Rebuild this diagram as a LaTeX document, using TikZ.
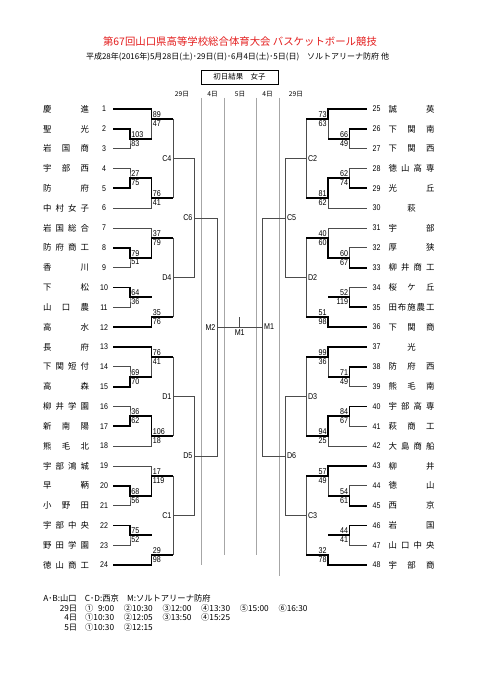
\documentclass[tikz,border=0pt]{standalone}
\usepackage{fontspec}
\setmainfont{Noto Sans CJK JP}
\newfontfamily\scorefont[FakeStretch=0.85]{Liberation Sans}
\usetikzlibrary{positioning}

\definecolor{titlered}{RGB}{228,28,28}

\tikzset{
  line/.style={line width=0.6pt, black!70},
  win/.style={line width=1.4pt, black},
  dayline/.style={line width=0.5pt, black!35},
  team/.style={inner sep=0pt, font=\fontsize{6.3}{7}\selectfont},
  num/.style={inner sep=0pt, font=\scorefont\fontsize{6.2}{7}\selectfont},
  score/.style={inner sep=0.9pt, font=\scorefont\fontsize{6.3}{7}\selectfont},
  sup/.style={score, anchor=south west},
  sdown/.style={score, anchor=north west},
  lbl/.style={inner sep=1.2pt, anchor=east, font=\scorefont\fontsize{6.3}{7}\selectfont},
  foot/.style={inner sep=0pt, font=\fontsize{6.2}{6.75}\selectfont},
}

\newcommand\teamname[1]{\makebox[34.5pt][s]{#1}}

% half of the draw: #1 tag, #2 team offset, #3 blocks, #4 #5 #6 later rounds
\newcommand\bracketside[6]{%
  \foreach \blk/\wina/\winb/\winc/\wind/\pa/\pb/\pc/\pd/\pe/\pf/\pg/\ph/\lab in {#3} {
    \pgfmathtruncatemacro\ka{#2+6*\blk+1}
    \pgfmathtruncatemacro\kb{\ka+1}
    \pgfmathtruncatemacro\kc{\ka+2}
    \pgfmathtruncatemacro\kd{\ka+3}
    \pgfmathtruncatemacro\ke{\ka+4}
    \pgfmathtruncatemacro\kf{\ka+5}
    \pgfmathsetmacro\yA{109+6*\blk*19.83}
    \pgfmathsetmacro\oA{\yA+0.5*19.83}
    \pgfmathsetmacro\oB{\yA+1.5*19.83}
    \pgfmathsetmacro\oC{\yA+2.5*19.83}
    \pgfmathsetmacro\oD{\yA+3.5*19.83}
    \pgfmathsetmacro\oE{\yA+4.5*19.83}
    \coordinate (#1\blk a) at (130,\oB);
    \coordinate (#1\blk b) at (151.5,\oA);
    \coordinate (#1\blk c) at (130,\oD);
    \coordinate (#1\blk d) at (151.5,\oE);
    \coordinate (#1\blk e) at (173.3,\oC);
    % all lines thin first
    \draw[line] (e\ka) -| (151.5,\oB);
    \draw[line] (e\kb) -| (#1\blk a) |- (e\kc);
    \draw[line] (e\kd) -| (#1\blk c) |- (e\ke);
    \draw[line] (#1\blk d) |- (e\kf);
    \draw[line] (173.3,\oA) -- (173.3,\oE);
    % winners thick
    \ifnum\wina=0 \edef\from{e\kb}\else\edef\from{e\kc}\fi
    \draw[win] (\from) -| (#1\blk a) -- (151.5,\oB);
    \ifnum\winb=0 \edef\from{e\ka}\else\edef\from{#1\blk a}\fi
    \draw[win] (\from) -| (#1\blk b) -- (173.3,\oA);
    \ifnum\winc=0 \edef\from{e\kd}\else\edef\from{e\ke}\fi
    \draw[win] (\from) -| (#1\blk c) -- (151.5,\oD);
    \ifnum\wind=0 \edef\from{#1\blk c}\else\edef\from{e\kf}\fi
    \draw[win] (\from) -| (#1\blk d) -- (173.3,\oE);
    % scores
    \node[sup] (#1\blk a1) at (#1\blk a) {\pa};
    \node[sdown] (#1\blk a2) at (#1\blk a) {\pb};
    \node[sup] (#1\blk b1) at (#1\blk b) {\pc};
    \node[sdown] (#1\blk b2) at (#1\blk b) {\pd};
    \node[sup] (#1\blk c1) at (#1\blk c) {\pe};
    \node[sdown] (#1\blk c2) at (#1\blk c) {\pf};
    \node[sup] (#1\blk d1) at (#1\blk d) {\pg};
    \node[sdown] (#1\blk d2) at (#1\blk d) {\ph};
    \node[lbl] (#1\blk) at (#1\blk e) {\lab};
  }
  \coordinate (#1f) at (194.3,218.1);
  \coordinate (#1g) at (194.3,456.0);
  \coordinate (#1m) at (217.3,327.1);
  \draw[line] (#10e) -| (#1f) |- (#11e);
  \draw[line] (#12e) -| (#1g) |- (#13e);
  \draw[line] (#1f) -| (#1m) |- (#1g);
  \node[lbl] (#1f lab) at (#1f) {#4};
  \node[lbl] (#1g lab) at (#1g) {#5};
  \node[lbl] (#1m lab) at (#1m) {#6};
}

\begin{document}
\begin{tikzpicture}[x=0.75pt, y=-0.75pt]
  \fill[white] (0,0) rectangle (481,680);
  \useasboundingbox (0,0) rectangle (481,680);

  % heading
  \node[text=titlered, inner sep=0pt, font=\fontsize{7.8}{9}\selectfont] (title) at (240,42)
    {第67回山口県高等学校総合体育大会 バスケットボール競技};
  \node[inner sep=0pt, font=\fontsize{6}{7}\selectfont] (sub) at (237.5,57)
    {平成28年(2016年)5月28日(土)･29日(日)･6月4日(土)･5日(日)　ソルトアリーナ防府 他};
  \node[draw, line width=0.6pt, minimum width=57.75pt, minimum height=10.5pt, inner sep=0pt,
    font=\fontsize{5.6}{7}\selectfont] (box) at (239.5,77) {初日結果　女子};
  \foreach \x/\d [count=\k] in {182/29日, 212.5/4日, 240/5日, 267.5/4日, 296/29日}
    \node[inner sep=0pt, font=\fontsize{5}{6}\selectfont] (day\k) at (\x,94) {\d};

  % day columns
  \draw[dayline] (201,98) -- (201,565);
  \draw[dayline] (224,98) -- (224,555);
  \draw[dayline] (256,98) -- (256,555);
  \draw[dayline] (279,98) -- (279,576);

  % teams
  \foreach \i/\nm in {1/慶\hfill 進, 2/聖\hfill 光, 3/岩\hfill 国\hfill 商, 4/宇\hfill 部\hfill 西,
      5/防\hfill 府, 6/中\hfill 村\hfill 女\hfill 子, 7/岩\hfill 国\hfill 総\hfill 合,
      8/防\hfill 府\hfill 商\hfill 工, 9/香\hfill 川, 10/下\hfill 松, 11/山\hfill 口\hfill 農,
      12/高\hfill 水, 13/長\hfill 府, 14/下\hfill 関\hfill 短\hfill 付, 15/高\hfill 森,
      16/柳\hfill 井\hfill 学\hfill 園, 17/新\hfill 南\hfill 陽, 18/熊\hfill 毛\hfill 北,
      19/宇\hfill 部\hfill 鴻\hfill 城, 20/早\hfill 鞆, 21/小\hfill 野\hfill 田,
      22/宇\hfill 部\hfill 中\hfill 央, 23/野\hfill 田\hfill 学\hfill 園, 24/徳\hfill 山\hfill 商\hfill 工} {
    \pgfmathsetmacro\ty{109+(\i-1)*19.83}
    \node[num] (n\i) at (104,\ty) {\i};
    \node[team] (t\i) at (66,\ty) {\teamname{\nm}};
    \coordinate (e\i) at (113,\ty);
  }
  \foreach \i/\nm in {25/誠\hfill 英, 26/下\hfill 関\hfill 南, 27/下\hfill 関\hfill 西,
      28/徳\hfill 山\hfill 高\hfill 専, 29/光\hfill 丘, 30/\hfill 萩\hfill, 31/宇\hfill 部,
      32/厚\hfill 狭, 33/柳\hfill 井\hfill 商\hfill 工, 34/桜\hfill ケ\hfill 丘,
      35/田\hfill 布\hfill 施\hfill 農\hfill 工, 36/下\hfill 関\hfill 商, 37/\hfill 光\hfill,
      38/防\hfill 府\hfill 西, 39/熊\hfill 毛\hfill 南, 40/宇\hfill 部\hfill 高\hfill 専,
      41/萩\hfill 商\hfill 工, 42/大\hfill 島\hfill 商\hfill 船, 43/柳\hfill 井, 44/徳\hfill 山,
      45/西\hfill 京, 46/岩\hfill 国, 47/山\hfill 口\hfill 中\hfill 央, 48/宇\hfill 部\hfill 商} {
    \pgfmathsetmacro\ty{109+(\i-25)*19.83}
    \node[num] (n\i) at (376.5,\ty) {\i};
    \node[team] (t\i) at (411.5,\ty) {\teamname{\nm}};
    \coordinate (e\i) at (366.5,\ty);
  }

  % left half
  \bracketside{L}{0}{0/0/0/1/0/103/83/89/47/27/75/76/41/C4,
    1/0/1/0/1/79/51/37/79/64/36/35/76/D4,
    2/1/0/1/0/69/70/76/41/36/62/106/18/D1,
    3/0/1/0/1/68/56/17/119/75/52/29/98/C1}{C6}{D5}{M2}

  % right half, mirrored
  \begin{scope}[xshift=359.625pt, xscale=-1,
      sup/.append style={anchor=south east}, sdown/.append style={anchor=north east},
      lbl/.append style={anchor=west}]
    \bracketside{R}{24}{0/0/0/1/0/66/49/73/63/62/74/81/62/C2,
      1/1/1/1/1/60/67/40/60/52/119/51/98/D2,
      2/0/0/0/0/71/49/99/36/84/67/94/25/D3,
      3/1/0/0/1/54/61/57/49/44/41/32/78/C3}{C5}{D6}{M1}
  \end{scope}

  % final
  \coordinate (mid) at (239.75,327.1);
  \draw[line] (Lm) -- (Rm);
  \draw[line] (mid) -- ++(0,-10);
  \node[lbl, anchor=north] (final) [below=0.3pt of mid] {M1};

  % venues and times
  \node[foot, anchor=west] (key) at (43,598) {A･B:山口　C･D:西京　M:ソルトアリーナ防府};
  \node[foot, anchor=north west] (times) at (59.5,604) {%
    \begin{tabular}{@{}r@{\hspace{6pt}}*{6}{p{29pt}@{}}}
      29日 & ①\hphantom{1}9:00 & ②10:30 & ③12:00 & ④13:30 & ⑤15:00 & ⑥16:30\\
      4日 & ①10:30 & ②12:05 & ③13:50 & ④15:25\\
      5日 & ①10:30 & ②12:15
    \end{tabular}};
\end{tikzpicture}
\end{document}
